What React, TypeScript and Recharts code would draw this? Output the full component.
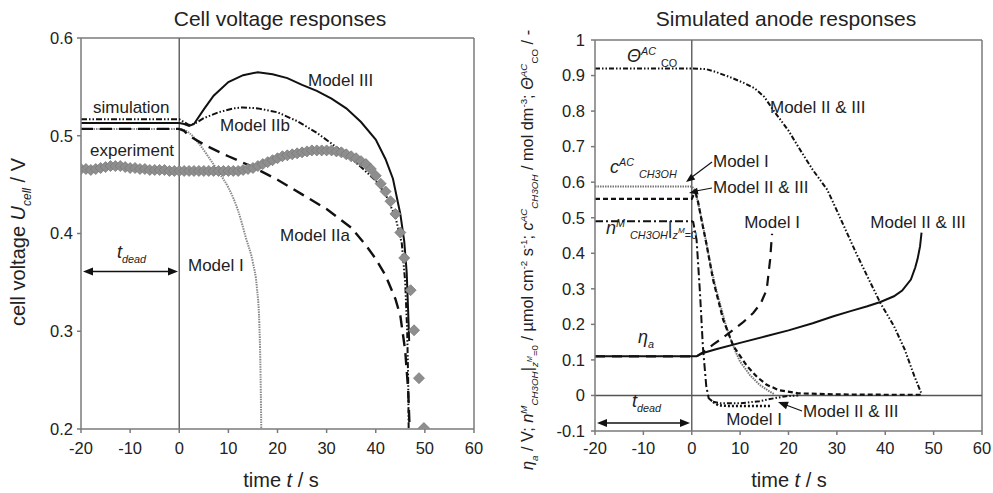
import React from 'react';
import { LineChart, Line, XAxis, YAxis, ReferenceLine } from 'recharts';

const FONT = 'Arial, "Liberation Sans", Helvetica, sans-serif';
const TXT = '#222';
const AXIS = '#7a7a7a';

// ---------- shared ticks ----------
const timeTicks = [-20, -10, 0, 10, 20, 30, 40, 50, 60];
const cellTicks = [0.2, 0.3, 0.4, 0.5, 0.6];
const anodeTicks = [-0.1, 0, 0.1, 0.2, 0.3, 0.4, 0.5, 0.6, 0.7, 0.8, 0.9, 1];

// ---------- left panel: cell voltage ----------
const cellModelIII = [
  { t: -20, v: 0.513 }, { t: 0, v: 0.513 }, { t: 1, v: 0.512 }, { t: 2, v: 0.510 }, { t: 3, v: 0.512 },
  { t: 5, v: 0.527 }, { t: 7, v: 0.541 }, { t: 10, v: 0.555 }, { t: 13, v: 0.562 }, { t: 16, v: 0.565 },
  { t: 19, v: 0.563 }, { t: 22, v: 0.559 }, { t: 25, v: 0.552 }, { t: 28, v: 0.546 }, { t: 31, v: 0.538 },
  { t: 34, v: 0.528 }, { t: 37, v: 0.514 }, { t: 40, v: 0.496 }, { t: 42, v: 0.476 }, { t: 43.5, v: 0.456 },
  { t: 45, v: 0.420 }, { t: 45.8, v: 0.392 }, { t: 46.3, v: 0.360 }, { t: 46.6, v: 0.320 }, { t: 46.8, v: 0.290 },
];
const cellModelIIb = [
  { t: -20, v: 0.517 }, { t: 0, v: 0.517 }, { t: 1, v: 0.514 }, { t: 2, v: 0.511 }, { t: 3, v: 0.512 },
  { t: 5, v: 0.518 }, { t: 8, v: 0.524 }, { t: 11, v: 0.528 }, { t: 13, v: 0.529 }, { t: 16, v: 0.528 },
  { t: 20, v: 0.524 }, { t: 24, v: 0.515 }, { t: 28, v: 0.503 }, { t: 31, v: 0.492 }, { t: 34, v: 0.481 },
  { t: 37, v: 0.468 }, { t: 40, v: 0.454 }, { t: 42, v: 0.440 }, { t: 44, v: 0.417 }, { t: 45.3, v: 0.390 },
  { t: 46, v: 0.350 }, { t: 46.4, v: 0.300 }, { t: 46.6, v: 0.250 }, { t: 46.7, v: 0.200 },
];
const cellModelIIa = [
  { t: -20, v: 0.507 }, { t: 0, v: 0.507 }, { t: 1, v: 0.505 }, { t: 2, v: 0.500 }, { t: 4, v: 0.494 },
  { t: 5.4, v: 0.490 }, { t: 10, v: 0.479 }, { t: 15, v: 0.468 }, { t: 20, v: 0.455 }, { t: 25, v: 0.440 },
  { t: 30, v: 0.425 }, { t: 35, v: 0.406 }, { t: 38, v: 0.388 }, { t: 40, v: 0.374 }, { t: 42, v: 0.357 },
  { t: 44, v: 0.333 }, { t: 45, v: 0.316 }, { t: 46, v: 0.280 }, { t: 46.6, v: 0.240 }, { t: 46.9, v: 0.200 },
];
const cellModelI = [
  { t: -20, v: 0.507 }, { t: 0, v: 0.507 }, { t: 1, v: 0.506 }, { t: 2, v: 0.503 }, { t: 4, v: 0.492 },
  { t: 6, v: 0.478 }, { t: 8, v: 0.463 }, { t: 10, v: 0.447 }, { t: 12, v: 0.423 }, { t: 13.6, v: 0.395 },
  { t: 15, v: 0.370 }, { t: 15.8, v: 0.345 }, { t: 16.3, v: 0.308 }, { t: 16.5, v: 0.270 }, { t: 16.7, v: 0.200 },
];
const cellExperiment = [
  { t: -20, v: 0.466 }, { t: -19, v: 0.466 }, { t: -18, v: 0.465 }, { t: -17, v: 0.466 }, { t: -16, v: 0.467 },
  { t: -15, v: 0.468 }, { t: -14, v: 0.469 }, { t: -13, v: 0.469 }, { t: -12, v: 0.469 }, { t: -11, v: 0.468 },
  { t: -10, v: 0.467 }, { t: -9, v: 0.467 }, { t: -8, v: 0.466 }, { t: -7, v: 0.466 }, { t: -6, v: 0.465 },
  { t: -5, v: 0.465 }, { t: -4, v: 0.465 }, { t: -3, v: 0.465 }, { t: -2, v: 0.464 }, { t: -1, v: 0.464 },
  { t: 0, v: 0.464 }, { t: 1, v: 0.464 }, { t: 2, v: 0.464 }, { t: 3, v: 0.464 }, { t: 4, v: 0.464 },
  { t: 5, v: 0.464 }, { t: 6, v: 0.464 }, { t: 7, v: 0.464 }, { t: 8, v: 0.464 }, { t: 9, v: 0.464 },
  { t: 10, v: 0.464 }, { t: 11, v: 0.464 }, { t: 12, v: 0.464 }, { t: 13, v: 0.465 }, { t: 14, v: 0.466 },
  { t: 15, v: 0.467 }, { t: 16, v: 0.469 }, { t: 17, v: 0.471 }, { t: 18, v: 0.473 }, { t: 19, v: 0.475 },
  { t: 20, v: 0.477 }, { t: 21, v: 0.479 }, { t: 22, v: 0.480 }, { t: 23, v: 0.481 }, { t: 24, v: 0.482 },
  { t: 25, v: 0.483 }, { t: 26, v: 0.484 }, { t: 27, v: 0.485 }, { t: 28, v: 0.485 }, { t: 29, v: 0.485 },
  { t: 30, v: 0.485 }, { t: 31, v: 0.485 }, { t: 32, v: 0.484 }, { t: 33, v: 0.483 }, { t: 34, v: 0.481 },
  { t: 35, v: 0.479 }, { t: 36, v: 0.477 }, { t: 37, v: 0.474 }, { t: 38, v: 0.471 }, { t: 39, v: 0.466 },
  { t: 40, v: 0.459 }, { t: 41, v: 0.451 }, { t: 42, v: 0.443 }, { t: 43, v: 0.433 }, { t: 44, v: 0.420 },
  { t: 45, v: 0.401 }, { t: 45.8, v: 0.375 }, { t: 47.1, v: 0.342 }, { t: 47.8, v: 0.301 }, { t: 48.8, v: 0.252 },
  { t: 49.8, v: 0.201 },
];

// ---------- right panel: anode responses ----------
const thetaCO = [
  { t: -20, v: 0.92 }, { t: 0, v: 0.92 }, { t: 3, v: 0.918 }, { t: 5, v: 0.910 }, { t: 8, v: 0.895 },
  { t: 11, v: 0.878 }, { t: 13, v: 0.864 }, { t: 15, v: 0.840 }, { t: 17, v: 0.800 }, { t: 20, v: 0.745 },
  { t: 22.4, v: 0.691 }, { t: 25, v: 0.635 }, { t: 28, v: 0.579 }, { t: 30, v: 0.520 }, { t: 32, v: 0.460 },
  { t: 34, v: 0.400 }, { t: 36.3, v: 0.335 }, { t: 39, v: 0.260 }, { t: 41.8, v: 0.195 }, { t: 44, v: 0.130 },
  { t: 46, v: 0.055 }, { t: 47.4, v: 0.008 },
];
const cMethanolModelI = [
  { t: -20, v: 0.588 }, { t: 0, v: 0.588 }, { t: 0.5, v: 0.580 }, { t: 1, v: 0.560 }, { t: 2, v: 0.500 },
  { t: 3, v: 0.430 }, { t: 4, v: 0.360 }, { t: 5, v: 0.300 }, { t: 6, v: 0.250 }, { t: 7, v: 0.200 },
  { t: 8, v: 0.160 }, { t: 9, v: 0.125 }, { t: 10, v: 0.095 }, { t: 12, v: 0.058 }, { t: 14, v: 0.030 },
  { t: 16, v: 0.012 }, { t: 17, v: 0.004 },
];
const cMethanolModelII = [
  { t: -20, v: 0.553 }, { t: 0, v: 0.553 }, { t: 0.3, v: 0.562 }, { t: 0.8, v: 0.570 }, { t: 1.3, v: 0.545 },
  { t: 2, v: 0.495 }, { t: 3, v: 0.429 }, { t: 4.4, v: 0.326 }, { t: 6.5, v: 0.213 }, { t: 8.6, v: 0.139 },
  { t: 11.4, v: 0.083 }, { t: 13.5, v: 0.052 }, { t: 15.5, v: 0.030 }, { t: 18, v: 0.015 }, { t: 22, v: 0.006 },
  { t: 30, v: 0.003 }, { t: 40, v: 0.002 }, { t: 47.4, v: 0.002 },
];
const nMethanolCommon = [
  { t: -20, v: 0.49 }, { t: 0, v: 0.49 }, { t: 0.3, v: 0.488 }, { t: 1, v: 0.438 }, { t: 1.7, v: 0.289 },
  { t: 2.3, v: 0.138 }, { t: 3, v: 0.026 }, { t: 3.5, v: -0.008 }, { t: 4.4, v: -0.018 },
];
const nMethanolModelI = [
  { t: 4.4, v: -0.018 }, { t: 5.5, v: -0.028 }, { t: 8, v: -0.030 }, { t: 12, v: -0.030 }, { t: 16.4, v: -0.030 },
];
const nMethanolModelII = [
  { t: 4.4, v: -0.018 }, { t: 6, v: -0.022 }, { t: 10, v: -0.022 }, { t: 14, v: -0.016 }, { t: 17, v: -0.008 },
  { t: 19.5, v: -0.002 }, { t: 22, v: 0 },
];
const etaModelII = [
  { t: -20, v: 0.11 }, { t: 0, v: 0.11 }, { t: 1, v: 0.11 }, { t: 2, v: 0.118 }, { t: 5, v: 0.130 },
  { t: 10, v: 0.148 }, { t: 15.5, v: 0.167 }, { t: 20, v: 0.183 }, { t: 25, v: 0.203 }, { t: 29.3, v: 0.223 },
  { t: 33, v: 0.238 }, { t: 36.3, v: 0.251 }, { t: 39, v: 0.263 }, { t: 41.8, v: 0.279 }, { t: 43.5, v: 0.295 },
  { t: 45.3, v: 0.326 }, { t: 46.2, v: 0.360 }, { t: 46.7, v: 0.385 }, { t: 47.2, v: 0.420 }, { t: 47.5, v: 0.458 },
];
const etaModelI = [
  { t: -20, v: 0.11 }, { t: 0, v: 0.11 }, { t: 1, v: 0.11 }, { t: 2, v: 0.118 }, { t: 4.4, v: 0.143 },
  { t: 6.5, v: 0.163 }, { t: 8.6, v: 0.185 }, { t: 10.7, v: 0.207 }, { t: 12.7, v: 0.232 }, { t: 14.3, v: 0.260 },
  { t: 15.5, v: 0.298 }, { t: 16.2, v: 0.382 }, { t: 16.5, v: 0.438 }, { t: 16.6, v: 0.455 },
];

const fmt = (v: number) => String(Number(v.toFixed(1)));

const Diamond = (props: any) => {
  const { cx, cy, index } = props;
  if (cx == null || cy == null) return <g key={`d${index}`} />;
  const r = 5.5;
  return (
    <polygon
      key={`d${index}`}
      points={`${cx},${cy - r} ${cx + r},${cy} ${cx},${cy + r} ${cx - r},${cy}`}
      fill="#8e8e8e"
      stroke="#7a7a7a"
      strokeWidth={0.8}
    />
  );
};

type Part = { s: string; k?: 'n' | 'sub' | 'sup' | 'ssup'; i?: boolean };

const RichText = ({ x, y, parts, size, rotate = 0, anchor = 'start' }: { x: number; y: number; parts: Part[]; size: number; rotate?: number; anchor?: string }) => {
  const shift: Record<string, number> = { n: 0, sub: size * 0.3, sup: -size * 0.38, ssup: -size * 0.05 };
  const scale: Record<string, number> = { n: 1, sub: 0.6, sup: 0.6, ssup: 0.45 };
  let cur = 0;
  return (
    <text
      transform={`translate(${x},${y}) rotate(${rotate})`}
      textAnchor={anchor as any}
      fontFamily={FONT}
      fontSize={size}
      fill={TXT}
    >
      {parts.map((p, idx) => {
        const k = p.k || 'n';
        const target = shift[k];
        const dy = target - cur;
        cur = target;
        return (
          <tspan key={idx} dy={dy} fontSize={size * scale[k]} fontStyle={p.i ? 'italic' : 'normal'}>
            {p.s}
          </tspan>
        );
      })}
    </text>
  );
};

const Arrowhead = ({ x, y, angle, len = 10, w = 4 }: { x: number; y: number; angle: number; len?: number; w?: number }) => {
  const a = (angle * Math.PI) / 180;
  const bx = x - len * Math.cos(a);
  const by = y - len * Math.sin(a);
  const px = -Math.sin(a) * w;
  const py = Math.cos(a) * w;
  return <polygon points={`${x},${y} ${bx + px},${by + py} ${bx - px},${by - py}`} fill="#111" />;
};

const tickStyle = { fill: TXT, fontSize: 16.5, fontFamily: FONT };

export default function App() {
  const wrap: React.CSSProperties = { position: 'absolute', left: 0, top: 0, width: 993, height: 493, background: '#fff', overflow: 'hidden' };
  return (
    <div style={wrap}>
      <div style={{ position: 'absolute', left: 0, top: 0 }}>
        <LineChart width={500} height={493} margin={{ top: 38, right: 26, bottom: 0, left: 0 }}>
          <XAxis type="number" dataKey="t" domain={[-20, 60]} ticks={timeTicks} height={64} tickSize={4} tickMargin={9}
            stroke={AXIS} strokeWidth={1.5} tick={tickStyle} allowDataOverflow interval={0} />
          <YAxis type="number" dataKey="v" domain={[0.2, 0.6]} ticks={cellTicks} width={81} tickSize={4} tickMargin={4}
            stroke={AXIS} strokeWidth={1.5} tick={tickStyle} tickFormatter={fmt} allowDataOverflow interval={0} />
          <ReferenceLine y={0.6} stroke={AXIS} strokeWidth={1.5} />
          <ReferenceLine x={60} stroke={AXIS} strokeWidth={1.5} />
          <ReferenceLine x={0} stroke="#666" strokeWidth={1.5} />
          <Line data={cellExperiment} dataKey="v" stroke="none" dot={Diamond} isAnimationActive={false} />
          <Line data={cellModelI} dataKey="v" stroke="#8a8a8a" strokeWidth={2} strokeDasharray="1.5 1" dot={false} type="monotone" isAnimationActive={false} />
          <Line data={cellModelIIa} dataKey="v" stroke="#111" strokeWidth={2.4} strokeDasharray="12 7" dot={false} type="linear" isAnimationActive={false} />
          <Line data={cellModelIIb} dataKey="v" stroke="#111" strokeWidth={2} strokeDasharray="6 2 1.5 2 1.5 2" dot={false} type="linear" isAnimationActive={false} />
          <Line data={cellModelIII} dataKey="v" stroke="#111" strokeWidth={2} dot={false} type="linear" isAnimationActive={false} />
        </LineChart>
      </div>
      <div style={{ position: 'absolute', left: 500, top: 0 }}>
        <LineChart width={493} height={493} margin={{ top: 40, right: 11, bottom: 0, left: 0 }}>
          <XAxis type="number" dataKey="t" domain={[-20, 60]} ticks={timeTicks} height={62} tickSize={4} tickMargin={7}
            stroke={AXIS} strokeWidth={1.5} tick={tickStyle} allowDataOverflow interval={0} />
          <YAxis type="number" dataKey="v" domain={[-0.1, 1]} ticks={anodeTicks} width={95} tickSize={4} tickMargin={6}
            stroke={AXIS} strokeWidth={1.5} tick={tickStyle} tickFormatter={fmt} allowDataOverflow interval={0} />
          <ReferenceLine y={1} stroke={AXIS} strokeWidth={1.5} />
          <ReferenceLine x={60} stroke={AXIS} strokeWidth={1.5} />
          <ReferenceLine x={0} stroke="#666" strokeWidth={1.5} />
          <ReferenceLine y={0} stroke="#555" strokeWidth={1.5} />
          <Line data={cMethanolModelI} dataKey="v" stroke="#777" strokeWidth={2} strokeDasharray="1.5 1" dot={false} isAnimationActive={false} />
          <Line data={thetaCO} dataKey="v" stroke="#111" strokeWidth={2} strokeDasharray="5 2 1.5 2 1.5 2" dot={false} isAnimationActive={false} />
          <Line data={cMethanolModelII} dataKey="v" stroke="#111" strokeWidth={2.2} strokeDasharray="5 3" dot={false} isAnimationActive={false} />
          <Line data={nMethanolCommon} dataKey="v" stroke="#111" strokeWidth={2} strokeDasharray="8 3 2 3" dot={false} isAnimationActive={false} />
          <Line data={nMethanolModelI} dataKey="v" stroke="#111" strokeWidth={2.5} strokeDasharray="2 2" dot={false} isAnimationActive={false} />
          <Line data={nMethanolModelII} dataKey="v" stroke="#111" strokeWidth={2} strokeDasharray="5 2 1.5 2 1.5 2" dot={false} isAnimationActive={false} />
          <Line data={etaModelI} dataKey="v" stroke="#111" strokeWidth={2.2} strokeDasharray="10 7" dot={false} isAnimationActive={false} />
          <Line data={etaModelII} dataKey="v" stroke="#111" strokeWidth={2} dot={false} isAnimationActive={false} />
        </LineChart>
      </div>
      <svg width={993} height={493} style={{ position: 'absolute', left: 0, top: 0, pointerEvents: 'none' }}>
        {/* titles */}
        <text x={280} y={26} textAnchor="middle" fontFamily={FONT} fontSize={21} fill={TXT}>Cell voltage responses</text>
        <text x={786} y={26} textAnchor="middle" fontFamily={FONT} fontSize={21} fill={TXT}>Simulated anode responses</text>
        {/* x labels */}
        <RichText x={281} y={487} anchor="middle" size={20} parts={[{ s: 'time ' }, { s: 't', i: true }, { s: ' / s' }]} />
        <RichText x={789} y={487} anchor="middle" size={20} parts={[{ s: 'time ' }, { s: 't', i: true }, { s: ' / s' }]} />
        {/* left y label */}
        <RichText x={25} y={242} rotate={-90} anchor="middle" size={20}
          parts={[{ s: 'cell voltage ' }, { s: 'U', i: true }, { s: 'cell', k: 'sub', i: true }, { s: ' / V' }]} />
        {/* right y label */}
        <RichText x={533} y={250} rotate={-90} anchor="middle" size={16.3}
          parts={[
            { s: 'η', i: true }, { s: 'a', k: 'sub', i: true }, { s: ' / V; ' },
            { s: 'n', i: true }, { s: 'M', k: 'sup', i: true }, { s: 'CH3OH', k: 'sub', i: true }, { s: '|' },
            { s: 'z', k: 'sub', i: true }, { s: 'M', k: 'ssup', i: true }, { s: '=0', k: 'sub' },
            { s: ' / µmol cm' }, { s: '-2', k: 'sup' }, { s: ' s' }, { s: '-1', k: 'sup' }, { s: '; ' },
            { s: 'c', i: true }, { s: 'AC', k: 'sup', i: true }, { s: 'CH3OH', k: 'sub', i: true },
            { s: ' / mol dm' }, { s: '-3', k: 'sup' }, { s: '; ' },
            { s: 'Θ', i: true }, { s: 'AC', k: 'sup', i: true }, { s: 'CO', k: 'sub' }, { s: ' / -' },
          ]} />

        {/* left annotations */}
        <g fontFamily={FONT} fontSize={17} fill={TXT}>
          <text x={93} y={113}>simulation</text>
          <text x={90} y={156}>experiment</text>
          <text x={308} y={86}>Model III</text>
          <text x={220} y={131}>Model IIb</text>
          <text x={280} y={241}>Model IIa</text>
          <text x={188} y={271}>Model I</text>
        </g>
        <RichText x={117} y={258} size={18} parts={[{ s: 't', i: true }, { s: 'dead', k: 'sub', i: true }]} />
        <line x1={90} y1={271.5} x2={170} y2={271.5} stroke="#111" strokeWidth={1.5} />
        <Arrowhead x={83} y={271.5} angle={180} />
        <Arrowhead x={178} y={271.5} angle={0} />

        {/* right annotations */}
        <RichText x={627} y={62} size={18} parts={[{ s: 'Θ', i: true }, { s: 'AC', k: 'sup', i: true }, { s: ' ', k: 'n' }, { s: 'CO', k: 'sub' }]} />
        <RichText x={610} y={173} size={18} parts={[{ s: 'c', i: true }, { s: 'AC', k: 'sup', i: true }, { s: '  ', k: 'n' }, { s: 'CH3OH', k: 'sub', i: true }]} />
        <RichText x={606} y={234} size={18} parts={[
          { s: 'n', i: true }, { s: 'M', k: 'sup', i: true }, { s: '  ' }, { s: 'CH3OH', k: 'sub', i: true }, { s: '|' },
          { s: 'z', k: 'sub', i: true }, { s: 'M', k: 'ssup', i: true }, { s: '=0', k: 'sub' },
        ]} />
        <RichText x={638} y={343} size={18} parts={[{ s: 'η', i: true }, { s: 'a', k: 'sub', i: true }]} />
        <RichText x={632} y={407} size={18} parts={[{ s: 't', i: true }, { s: 'dead', k: 'sub', i: true }]} />
        <line x1={604} y1={423} x2={683} y2={423} stroke="#111" strokeWidth={1.5} />
        <Arrowhead x={597} y={423} angle={180} />
        <Arrowhead x={690} y={423} angle={0} />

        <g fontFamily={FONT} fontSize={17} fill={TXT}>
          <text x={770} y={113}>Model II &amp; III</text>
          <text x={713} y={167}>Model I</text>
          <text x={713} y={193}>Model II &amp; III</text>
          <text x={772} y={228} textAnchor="middle">Model I</text>
          <text x={918} y={228} textAnchor="middle">Model II &amp; III</text>
          <text x={803} y={417}>Model II &amp; III</text>
          <text x={754} y={425} textAnchor="middle">Model I</text>
        </g>
        <line x1={712} y1={162} x2={692} y2={177} stroke="#111" strokeWidth={1.2} />
        <Arrowhead x={686} y={182} angle={143} len={9} w={3.5} />
        <line x1={712} y1={188} x2={696} y2={191} stroke="#111" strokeWidth={1.2} />
        <Arrowhead x={689} y={193} angle={168} len={9} w={3.5} />
        <line x1={802} y1={411} x2={786} y2={405} stroke="#111" strokeWidth={1.2} />
        <Arrowhead x={778} y={402} angle={200} len={10} w={4} />
      </svg>
    </div>
  );
}
